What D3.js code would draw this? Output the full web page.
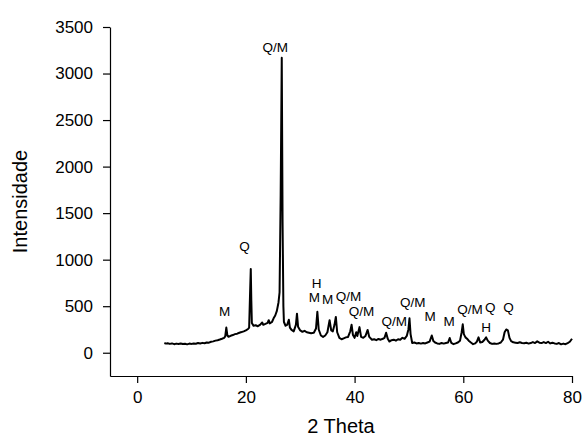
<!DOCTYPE html>
<html>
<head>
<meta charset="utf-8">
<script src="https://cdn.jsdelivr.net/npm/d3@7"></script>
<style>
  body { margin: 0; background: #fff; }
  svg { display: block; font-family: "Liberation Sans", Arial, sans-serif; }
  .axis path, .axis line { stroke: #000; stroke-width: 1.2; }
  .axis text { font-size: 17px; fill: #000; }
  .peak { font-size: 13.5px; fill: #000; }
  .title { font-size: 20px; fill: #000; }
</style>
</head>
<body>
<div id="container"></div>
<script>
// diffractogram (2 theta in degrees, counts)
const twoTheta = [
  5.0, 5.3, 5.6, 6.0, 6.4, 6.8, 7.2, 7.6, 8.0, 8.4, 8.8, 9.2, 9.6, 10.0, 10.4, 10.8,
  11.2, 11.6, 12.0, 12.4, 12.8, 13.2, 13.6, 14.0, 14.4, 14.8, 15.2, 15.6, 16.0, 16.2,
  16.4, 16.6, 16.8, 17.2, 17.6, 18.0, 18.4, 18.8, 19.2, 19.6, 20.0, 20.4, 20.6, 20.8,
  20.9, 21.0, 21.1, 21.4, 21.8, 22.2, 22.6, 23.0, 23.2, 23.6, 24.0, 24.2, 24.4, 24.8,
  25.1, 25.4, 25.7, 26.0, 26.2, 26.4, 26.6, 26.75, 26.9, 27.0, 27.3, 27.6, 27.9, 28.1,
  28.4, 28.8, 29.2, 29.4, 29.6, 30.0, 30.4, 30.8, 31.2, 31.6, 32.0, 32.5, 32.9, 33.15,
  33.4, 33.8, 34.2, 34.6, 35.0, 35.4, 35.7, 36.0, 36.3, 36.55, 36.8, 37.2, 37.6, 38.0,
  38.4, 38.8, 39.2, 39.45, 39.7, 40.0, 40.3, 40.5, 40.9, 41.2, 41.6, 42.0, 42.4, 42.7,
  43.2, 43.6, 44.0, 44.4, 44.8, 45.2, 45.5, 45.8, 46.1, 46.4, 46.8, 47.2, 47.6, 48.0,
  48.4, 48.8, 49.2, 49.6, 49.9, 50.1, 50.3, 50.6, 51.0, 51.4, 51.8, 52.2, 52.6, 53.0,
  53.4, 53.8, 54.2, 54.5, 54.8, 55.2, 55.6, 56.0, 56.4, 56.8, 57.2, 57.5, 57.8, 58.2,
  58.6, 59.0, 59.4, 59.7, 59.9, 60.1, 60.4, 60.7, 61.0, 61.4, 61.8, 62.2, 62.5, 62.8,
  63.1, 63.5, 63.9, 64.2, 64.5, 64.9, 65.3, 65.7, 66.1, 66.5, 66.9, 67.3, 67.6, 67.9,
  68.2, 68.5, 68.8, 69.2, 69.6, 70.0, 70.4, 70.8, 71.2, 71.6, 72.0, 72.4, 72.8, 73.2,
  73.6, 74.0, 74.4, 74.8, 75.2, 75.6, 76.0, 76.4, 76.8, 77.2, 77.6, 78.0, 78.4, 78.8,
  79.2, 79.6, 80.0
];
const intensity = [
  105, 98, 102, 95, 100, 92, 98, 94, 100, 93, 97, 90, 98, 95, 100, 96,
  104, 99, 106, 102, 110, 108, 118, 122, 130, 135, 142, 150, 160, 175,
  270, 185, 172, 182, 190, 200, 205, 215, 222, 230, 240, 255, 270, 700,
  900, 560, 320, 290, 295, 285, 300, 325, 300, 310, 320, 350, 315, 330,
  370, 400, 450, 540, 650, 1700, 3170, 1400, 500, 330, 290, 300, 355, 270,
  245, 230, 300, 420, 280, 240, 225, 235, 220, 215, 210, 215, 260, 440,
  250, 185, 170, 185, 220, 350, 240, 230, 300, 385, 220, 160, 145, 155,
  165, 170, 230, 300, 190, 160, 220, 180, 275, 170, 160, 180, 245, 170,
  140, 145, 135, 148, 140, 150, 160, 215, 150, 120, 135, 140, 130, 145,
  140, 160, 150, 180, 250, 370, 200, 105, 110, 100, 105, 98, 105, 100,
  110, 120, 185, 125, 110, 100, 95, 105, 98, 105, 110, 158, 105, 92,
  100, 110, 130, 220, 305, 200, 165, 150, 130, 110, 92, 100, 120, 165,
  110, 115, 140, 165, 130, 105, 95, 100, 95, 100, 110, 140, 220, 250,
  240, 160, 125, 112, 108, 104, 112, 104, 102, 108, 98, 104, 114, 104,
  122, 108, 104, 114, 104, 118, 100, 108, 100, 95, 104, 90, 98, 92,
  104, 118, 150
];

// phase labels: Q quartz, M mullite, H hematite
const peakLabels = ["Q/M", "Q", "M", "H", "M", "M", "Q/M", "Q/M", "Q/M", "Q/M", "M", "M", "Q/M", "Q", "H", "Q"];
const peakTheta = [25.4, 19.75, 16.1, 33.0, 32.6, 35.05, 38.9, 41.25, 47.3, 50.7, 53.9, 57.4, 61.25, 64.95, 64.2, 68.3];
const peakLevel = [3285, 1141, 440, 741, 590, 569, 601, 446, 333, 537, 387, 333, 462, 483, 268, 483];

const xTicks = [0, 20, 40, 60, 80];
const yTicks = [0, 500, 1000, 1500, 2000, 2500, 3000, 3500];

const svgWidth = 582,
  svgHeight = 439;
const margin = { top: 27, left: 110, bottom: 63, right: 10 };

const x = d3
  .scaleLinear()
  .domain([-5, 80])
  .range([margin.left, svgWidth - margin.right]);
const y = d3
  .scaleLinear()
  .domain([-250, 3500])
  .range([svgHeight - margin.bottom, margin.top]);

const svg = d3
  .select("#container")
  .append("svg")
  .attr("width", svgWidth)
  .attr("height", svgHeight);

svg
  .append("g")
  .attr("class", "axis")
  .attr("transform", `translate(0,${svgHeight - margin.bottom})`)
  .call(d3.axisBottom(x).tickValues(xTicks).tickFormat(d3.format("d")).tickSize(7).tickSizeOuter(0).tickPadding(8))
  .call(g => g.selectAll("text").attr("font-family", null).attr("font-size", null));

svg
  .append("g")
  .attr("class", "axis")
  .attr("transform", `translate(${margin.left},0)`)
  .call(d3.axisLeft(y).tickValues(yTicks).tickFormat(d3.format("d")).tickSize(7).tickSizeOuter(0).tickPadding(10))
  .call(g => g.selectAll("text").attr("font-family", null).attr("font-size", null));

const points = twoTheta.map((t, i) => [t, intensity[i]]);

svg
  .append("path")
  .datum(points)
  .attr("fill", "none")
  .attr("stroke", "#000")
  .attr("stroke-width", 2)
  .attr("stroke-linejoin", "round")
  .attr("d", d3.line().x(d => x(d[0])).y(d => y(d[1])));

svg
  .selectAll("text.peak")
  .data(peakLabels)
  .enter()
  .append("text")
  .attr("class", "peak")
  .attr("x", (d, i) => x(peakTheta[i]))
  .attr("y", (d, i) => y(peakLevel[i]))
  .attr("text-anchor", "middle")
  .attr("dominant-baseline", "central")
  .text(d => d);

// axis titles
svg
  .append("text")
  .attr("class", "title")
  .attr("x", (margin.left + svgWidth - margin.right) / 2)
  .attr("y", 426)
  .attr("text-anchor", "middle")
  .attr("dominant-baseline", "central")
  .text("2 Theta");

svg
  .append("text")
  .attr("class", "title")
  .attr("transform", `translate(20,${(margin.top + svgHeight - margin.bottom) / 2}) rotate(-90)`)
  .attr("text-anchor", "middle")
  .attr("dominant-baseline", "central")
  .text("Intensidade");
</script>
</body>
</html>
